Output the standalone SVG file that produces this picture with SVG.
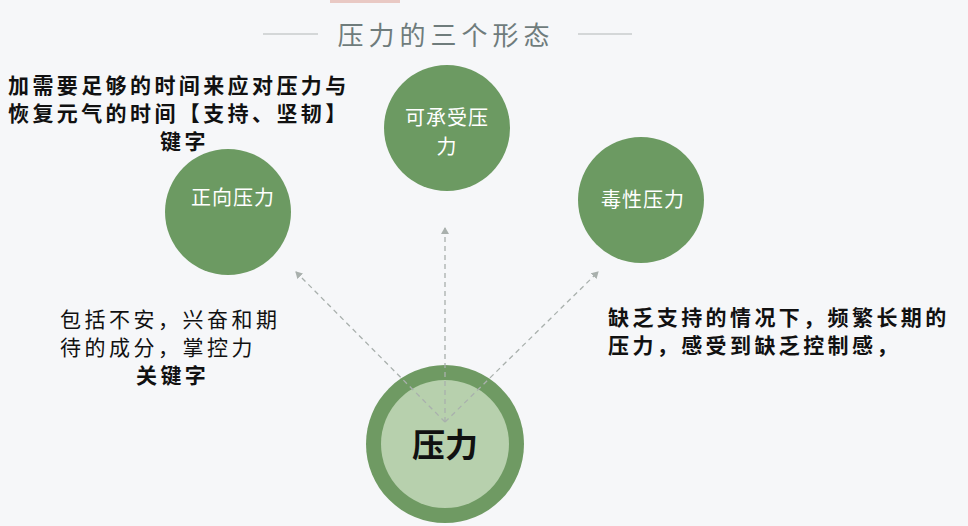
<svg xmlns="http://www.w3.org/2000/svg" width="968" height="526" viewBox="0 0 968 526">
<style>
text{font-family:"Noto Sans CJK SC","Noto Sans",sans-serif}
.n{fill:#6c9a62}
.w{fill:#fff;font-size:20px;text-anchor:middle;letter-spacing:1px}
.b{fill:#111;font-size:21px;font-weight:bold;letter-spacing:3.4px}
.r{fill:#111;font-size:21px;letter-spacing:3.5px}
.c{stroke:#a9b0ad;stroke-width:1.3;stroke-dasharray:5 4;fill:none}
</style>
<defs><marker id="a" markerWidth="8" markerHeight="8" refX="6" refY="4" orient="auto" markerUnits="userSpaceOnUse"><path d="M0,0L7,4L0,8z" fill="#a9b0ad"/></marker></defs>
<rect width="968" height="526" fill="#f6f7f9"/>
<rect x="330" y="0" width="70" height="3" fill="#e9c9c4"/>
<g id="title">
<line x1="263" y1="34" x2="318" y2="34" stroke="#c8cccc" stroke-width="1.5"/>
<line x1="578" y1="34" x2="632" y2="34" stroke="#c8cccc" stroke-width="1.5"/>
<text x="446" y="45" font-size="26" fill="#6f7c7c" text-anchor="middle" letter-spacing="5">压力的三个形态</text>
</g>
<g id="center"><circle cx="445" cy="444" r="79" fill="#6f9a63"/><circle cx="445" cy="444" r="64" fill="#b7d0ad"/></g>
<g id="connectors">
<line class="c" x1="445" y1="422" x2="296" y2="272" marker-end="url(#a)"/>
<line class="c" x1="445" y1="422" x2="445" y2="228" marker-end="url(#a)"/>
<line class="c" x1="445" y1="422" x2="598" y2="272" marker-end="url(#a)"/>
</g>
<g id="centerLabel"><text x="445" y="457" font-size="33" font-weight="bold" fill="#111" text-anchor="middle">压力</text></g>
<g id="n1"><circle class="n" cx="228" cy="212" r="63"/><text class="w" x="233" y="205">正向压力</text></g>
<g id="n2"><circle class="n" cx="447" cy="128" r="63"/><text class="w" x="447" y="125">可承受压</text><text class="w" x="447" y="154">力</text></g>
<g id="n3"><circle class="n" cx="641" cy="200" r="63"/><text class="w" x="643" y="207">毒性压力</text></g>
<g id="t1"><text class="b" x="8" y="93">加需要足够的时间来应对压力与</text><text class="b" x="8" y="121">恢复元气的时间【支持、坚韧】</text><text class="b" x="160" y="149">键字</text></g>
<g id="t2"><text class="r" x="60" y="327">包括不安，兴奋和期</text><text class="r" x="60" y="355">待的成分，掌控力</text><text class="b" x="136" y="383">关键字</text></g>
<g id="t3"><text class="b" x="608" y="325">缺乏支持的情况下，频繁长期的</text><text class="b" x="608" y="353">压力，感受到缺乏控制感，</text></g>
</svg>
